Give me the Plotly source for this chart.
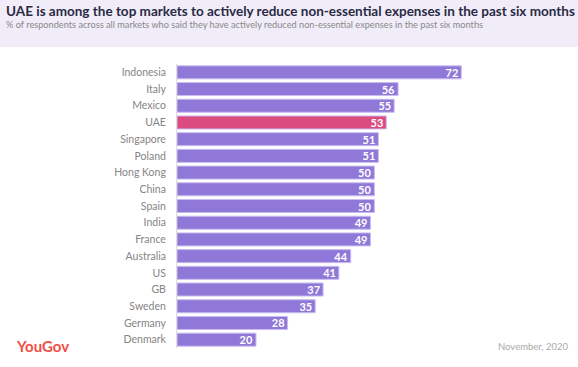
import plotly.graph_objects as go

countries = ["Indonesia", "Italy", "Mexico", "UAE", "Singapore", "Poland", "Hong Kong",
             "China", "Spain", "India", "France", "Australia", "US", "GB", "Sweden",
             "Germany", "Denmark"]
values = [72, 56, 55, 53, 51, 51, 50, 50, 50, 49, 49, 44, 41, 37, 35, 28, 20]
highlight = "UAE"

PURPLE = "#8f78d8"
PINK = "#dc4b80"
colors = [PINK if c == highlight else PURPLE for c in countries]

W, H = 578, 367
L, R, T, B = 177, 18, 64, 19
PW, PH = W - L - R, H - T - B


def px(x):
    return (x - L) / PW


def py(y):
    return (H - B - y) / PH


fig = go.Figure(go.Bar(
    y=countries, x=values, orientation="h",
    marker=dict(color=colors, line=dict(color="#c9bdf0", width=1)),
    text=[str(v) for v in values], textposition="inside", insidetextanchor="end",
    textangle=0, constraintext="none",
    insidetextfont=dict(color="white", size=11, family="Lato", weight="bold"),
    hoverinfo="skip",
))

fig.update_layout(
    width=W, height=H,
    margin=dict(l=L, r=R, t=T, b=B, autoexpand=False),
    paper_bgcolor="white", plot_bgcolor="white",
    bargap=0.22,
    showlegend=False,
    font=dict(family="Lato", color="#777777"),
    xaxis=dict(range=[0, 97], visible=False, fixedrange=True),
    yaxis=dict(autorange="reversed", showline=True, linecolor="#dddddd", linewidth=1,
               showgrid=False, ticks="", ticklabelstandoff=8, automargin=False,
               fixedrange=True,
               tickfont=dict(size=10.5, color="#858585", family="Lato")),
    shapes=[dict(type="rect", xref="paper", yref="paper", x0=px(-5), x1=px(W + 5),
                 y0=py(47), y1=py(-5),
                 fillcolor="#f0edf8", line=dict(width=0), layer="below")],
    annotations=[
        dict(text="<b>UAE is among the top markets to actively reduce non-essential expenses in the past six months</b>",
             xref="paper", yref="paper", x=px(4), y=py(1), xanchor="left", yanchor="top",
             showarrow=False, font=dict(size=13.5, color="#2a2a45", family="Lato")),
        dict(text="% of respondents across all markets who said they have actively reduced non-essential expenses in the past six months",
             xref="paper", yref="paper", x=px(4), y=py(17), xanchor="left", yanchor="top",
             showarrow=False, font=dict(size=9.2, color="#888888", family="Lato")),
        dict(text="<b>YouGov</b>", xref="paper", yref="paper", x=px(14), y=py(335),
             xanchor="left", yanchor="top", showarrow=False,
             font=dict(size=15, color="#f04e45", family="Lato")),
        dict(text="November, 2020", xref="paper", yref="paper", x=px(570),
             y=py(339), xanchor="right", yanchor="top", showarrow=False,
             font=dict(size=9.5, color="#aaaaaa", family="Lato")),
    ],
)

fig.write_html("out.html", config={"displayModeBar": False},
               post_script="document.body.style.margin='0';document.body.style.overflow='hidden';")
